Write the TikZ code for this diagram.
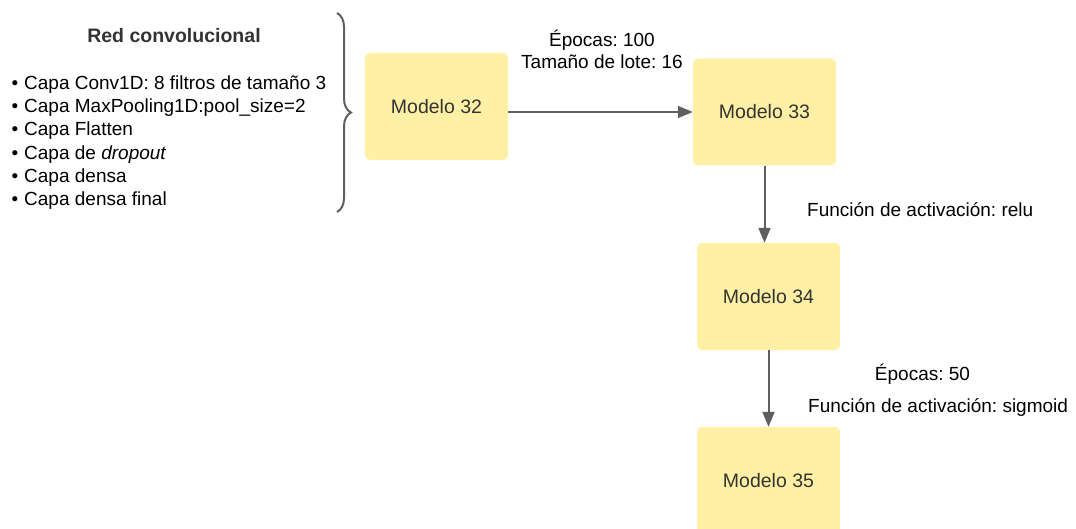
\documentclass[tikz,border=0pt]{standalone}
\usepackage{fontspec}
\setmainfont{Liberation Sans}
\usetikzlibrary{arrows.meta,decorations.pathreplacing}
\definecolor{boxfill}{HTML}{FFF0A5}
\definecolor{linegray}{HTML}{5F5F5F}
\definecolor{txt}{HTML}{333333}
\newcommand{\bul}{\makebox[14pt][l]{\hspace{1.5pt}\textbullet}}
\frenchspacing
\begin{document}
\frenchspacing
\begin{tikzpicture}[x=1pt,y=-1pt,
  model/.style={fill=boxfill,rounded corners=5pt,minimum width=143pt,minimum height=107pt,inner sep=0pt,text=txt,font=\fontsize{19.5}{22}\selectfont},
  conn/.style={draw=linegray,line width=2pt,-{Triangle[length=15pt,width=12pt]}},
  lbl/.style={text=black,font=\fontsize{19}{21.6}\selectfont,inner sep=0pt,align=center},
  listtxt/.style={text=black,font=\fontsize{19}{23.3}\selectfont,inner sep=0pt,align=left}]
\useasboundingbox (0,0) rectangle (1076,529);
\node[model] (m32) at (436.5,106.5) {Modelo 32};
\node[model] (m33) at (764.5,112) {Modelo 33};
\node[model] (m34) at (768.5,296.5) {Modelo 34};
\node[model] (m35) at (768.5,480.5) {Modelo 35};
\draw[conn] (m32.east |- m33.west) -- (m33.west);
\draw[conn] (m33.south) -- (m34.north -| m33.south);
\draw[conn] (m34.south) -- (m35.north);
\node[lbl,anchor=base] (l1) at (602,68.3) {Épocas: 100\\Tamaño de lote: 16};
\node[lbl,anchor=base west] (l2) at (807,216.7) {Función de activación: relu};
\node[lbl,anchor=base] (l3) at (922.5,380.7) {Épocas: 50};
\node[lbl,anchor=base west] (l4) at (808,412.3) {Función de activación: sigmoid};
\node[text=txt,font=\fontsize{19.5}{22}\selectfont\bfseries,inner sep=0pt,anchor=base] (title) at (174,42.5) {Red convolucional};
\node[listtxt,anchor=base west] (list) at (10,205.8) {%
\bul Capa Conv1D: 8 filtros de tamaño 3\\
\bul Capa MaxPooling1D:pool\_size=2\\
\bul Capa Flatten\\
\bul Capa de \textit{dropout}\\
\bul Capa densa\\
\bul Capa densa final};
\coordinate (bt) at (337,13);
\coordinate (bb) at (337,212);
\draw[draw=linegray,line width=2pt,decorate,decoration={brace,amplitude=14pt,aspect=0.5}] (bt) -- (bb);
\end{tikzpicture}
\end{document}
